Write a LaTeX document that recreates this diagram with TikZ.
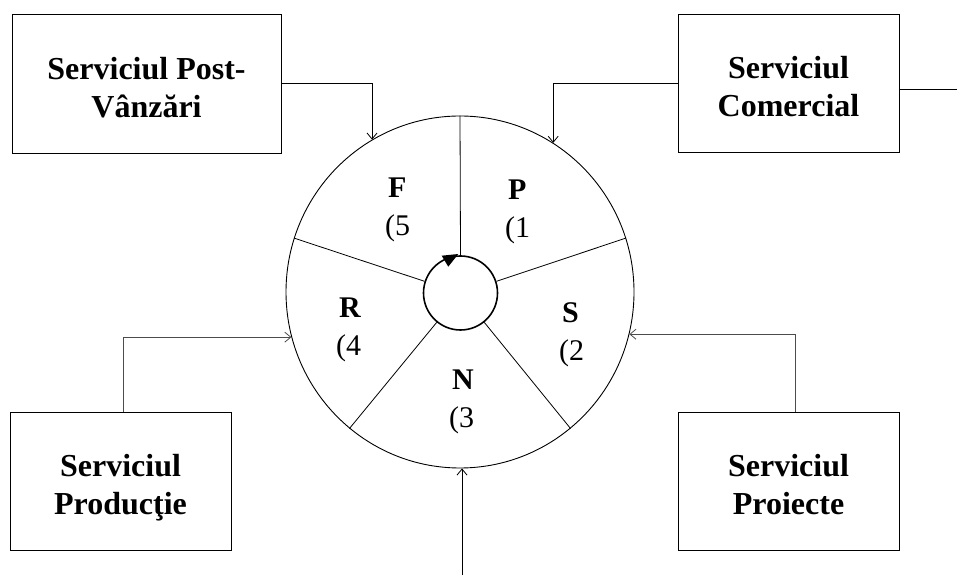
\documentclass[tikz,border=0pt]{standalone}
\usepackage{fontspec}
\setmainfont{Liberation Serif}
\usetikzlibrary{shapes,arrows.meta}

\begin{document}
\begin{tikzpicture}[
		x = 1pt, y = 1pt,
		box/.style = {draw, line width=.9pt, minimum width=221pt, minimum height=138pt,
			align=center, text height=68pt, text depth=0pt, font=\fontsize{32}{38}\selectfont\bfseries},
		link/.style = {line width=.8pt, -{Straight Barb[length=6pt,width=10pt]}},
		lbl/.style = {inner sep=0pt, anchor=base west, font=\fontsize{30}{36}\selectfont}
	]
	\useasboundingbox (0,0) rectangle (957,575);

	% the wheel and its hub
	\node[draw, ellipse, line width=.9pt, inner sep=0pt, minimum width=348pt, minimum height=352pt] (wheel) at (460,283) {};
	\node[draw, circle, line width=1.6pt, inner sep=0pt, minimum size=74pt] (hub) at (460.5,282) {};
	\foreach \a in {90,18,-51,-129,162}
		\draw[line width=.8pt] (hub.\a) -- (wheel.\a);
	% turning sense of the hub
	\fill ([shift={(-18.8,37.3)}]hub.center) -- ([shift={(-2.2,39)}]hub.center) -- ([shift={(-12.2,26.3)}]hub.center) -- cycle;

	% sectors
	\foreach \t/\n/\x/\y in {P/1/508/375, S/2/562/252, N/3/452/185, R/4/339/257, F/5/388/377}{
		\node[lbl] (sec\n) at (\x,\y) {\textbf{\t}};
		\node[lbl] (num\n) at (\x-3,\y-38) {(\n};
	}

	% services
	\node[box, minimum width=269pt, minimum height=139pt] (post) at (146.5,491.5) {Serviciul Post-\\Vânzări};
	\node[box] (com) at (788.5,492) {Serviciul\\Comercial};
	\node[box] (prod) at (120.5,94) {Serviciul\\Producţie};
	\node[box] (proi) at (788.5,94) {Serviciul\\Proiecte};

	\draw[link] (post.east) -| (wheel.120);
	\draw[link] (com.west) -| (wheel.58);
	\draw[link, black!70] ([xshift=2.5pt]prod.north) |- (wheel.195);
	\draw[link, black!70] ([xshift=6.5pt]proi.north) |- (wheel.-14);

	\coordinate (ext) at (957,486);
	\draw[line width=.8pt] (com.east |- ext) -- (ext);
	\coordinate (base) at (462,0);
	\draw[link] (base) -- (base |- wheel.south);

\end{tikzpicture}
\end{document}
